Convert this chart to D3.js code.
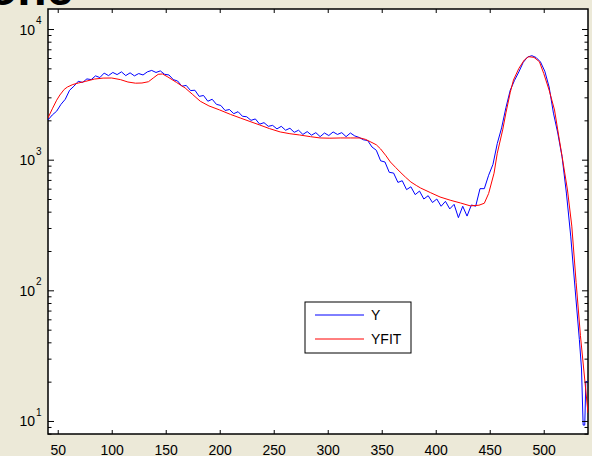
<!DOCTYPE html>
<html>
  <head>
    <style>
      body {
        margin: 0;
        background: #ECE9D8;
        font-family: "Liberation Sans", Arial, sans-serif;
      }
      .frame { fill: #fff; stroke: #000; stroke-width: 1.5px; }
      .axis path { display: none; }
      .axis line { stroke: #000; stroke-width: 1px; }
      .axis text { font-size: 14px; fill: #000; font-family: "Liberation Sans", Arial, sans-serif; }
      .y-line { fill: none; stroke: #0000ff; stroke-width: 1px; }
      .fit-line { fill: none; stroke: #ff0000; stroke-width: 1px; }
    </style>
  </head>
  <body>
    <script src="https://d3js.org/d3.v7.min.js"></script>
    <script>
      // measured Y, sampled every 4 channels from 41
      var yStart = 41, yStep = 4;
      var yValues = [
        2014,2200,2350,2650,2900,3400,3650,3980,3900,4150,
        4100,4380,4250,4600,4400,4650,4480,4700,4400,4620,
        4380,4560,4450,4700,4820,4650,4780,4500,4450,4100,
        4000,3650,3700,3380,3400,3050,3100,2800,2900,2650,
        2600,2380,2420,2250,2330,2150,2130,2000,2050,1870,
        1920,1800,1830,1720,1800,1680,1740,1620,1680,1560,
        1640,1540,1610,1500,1600,1530,1630,1560,1610,1500,
        1600,1520,1480,1420,1400,1250,1180,980,960,800,
        790,670,690,590,620,540,575,500,530,470,
        500,440,480,420,455,360,440,370,450,440,
        600,600,760,920,1330,1750,2500,3400,4050,4700,
        5550,6100,6250,6050,5600,4750,3600,2270,1600,1050,
        555,260,104,42
      ];
      var yTail = [[535, 25], [536.5, 9.3], [538, 9.3], [539, 20], [541, 20]];

      // fitted curve
      var fitX = [41,45,49,52,56,59,64,69,76,84,92,100,108,115,122,128,134,139,143,147,
                  152,160,168,175,182,190,200,210,219,228,237,246,256,265,274,284,293,302,312,321,
                  330,335,340,345,349,354,358,363,367,372,377,382,386,395,404,414,423,432,440,445,
                  449,454,457,462,465,469,472,477,482,486,491,496,500,505,510,514,517,522,526,530,
                  534,541];
      var fitY = [2085,2450,2850,3126,3450,3600,3760,3860,3980,4140,4210,4217,4100,3930,3850,3862,3950,4250,4500,4528,
                  4293,3900,3537,3150,2800,2580,2400,2220,2085,1960,1843,1730,1630,1580,1545,1500,1466,1460,1466,1466,
                  1466,1430,1365,1300,1207,1070,960,870,805,735,675,635,607,560,518,488,466,443,448,464,
                  551,788,1120,1690,2280,3270,4070,5000,5790,6140,6070,5620,4570,3410,2400,1500,1060,586,310,115,
                  45,11.5];

      var xTicks = [50,100,150,200,250,300,350,400,450,500];
      var yMajor = [10,100,1000,10000];
      var legendLabels = ["Y", "YFIT"];

      var W = 592, H = 456;
      var pLeft = 48, pRight = 588, pTop = 9, pBottom = 434;

      var svg = d3.select("body").append("svg")
        .attr("width", W)
        .attr("height", H);

      // truncated title above the axes
      svg.append("text")
        .attr("x", -12).attr("y", 5)
        .style("font-size", "48px").style("font-weight", "bold")
        .style("font-family", "'Liberation Sans', Arial, sans-serif")
        .text("one");

      var x = d3.scaleLinear().domain([41, 541]).range([pLeft, pRight]);
      var y = d3.scaleLog().domain([7.95, 14230]).range([pBottom, pTop]);

      svg.append("rect")
        .attr("class", "frame")
        .attr("x", pLeft).attr("y", pTop)
        .attr("width", pRight - pLeft).attr("height", pBottom - pTop);

      svg.append("clipPath").attr("id", "clip")
        .append("rect")
        .attr("x", pLeft).attr("y", pTop)
        .attr("width", pRight - pLeft).attr("height", pBottom - pTop);

      var yData = yValues.map(function(v, i) { return [yStart + i * yStep, v]; }).concat(yTail);
      var fitData = fitX.map(function(v, i) { return [v, fitY[i]]; });

      var line = d3.line()
        .x(d => x(d[0]))
        .y(d => y(d[1]));

      var plot = svg.append("g").attr("clip-path", "url(#clip)");
      plot.append("path").attr("class", "y-line").datum(yData).attr("d", line);
      plot.append("path").attr("class", "fit-line").datum(fitData).attr("d", line);

      // x axes, ticks pointing inward
      svg.append("g")
        .attr("class", "axis")
        .attr("transform", "translate(0," + pBottom + ")")
        .call(d3.axisBottom(x).tickValues(xTicks).tickSize(-4).tickPadding(11));
      svg.append("g")
        .attr("class", "axis")
        .attr("transform", "translate(0," + pTop + ")")
        .call(d3.axisTop(x).tickValues(xTicks).tickSize(-4).tickFormat(""));

      // y minor ticks 2..9 in every decade
      var yMinor = [];
      [1, 10, 100, 1000, 10000].forEach(function(d) {
        for (var k = 2; k <= 9; k++) {
          var v = d * k;
          if (v >= 7.95 && v <= 14230) yMinor.push(v);
        }
      });

      [[pLeft, d3.axisLeft], [pRight, d3.axisRight]].forEach(function(s) {
        svg.append("g")
          .attr("class", "axis")
          .attr("transform", "translate(" + s[0] + ",0)")
          .call(s[1](y).tickValues(yMajor).tickSize(-6).tickFormat(""));
        svg.append("g")
          .attr("class", "axis")
          .attr("transform", "translate(" + s[0] + ",0)")
          .call(s[1](y).tickValues(yMinor).tickSize(-3.5).tickFormat(""));
      });

      // 10^n labels
      var lab = svg.selectAll(".ylab").data(yMajor).enter().append("g").attr("class", "ylab");
      lab.append("text")
        .attr("x", 35).attr("y", d => y(d) + 5.5)
        .attr("text-anchor", "end")
        .style("font-size", "14px")
        .text("10");
      lab.append("text")
        .attr("x", 36).attr("y", d => y(d) - 5)
        .style("font-size", "10px")
        .text(d => Math.round(Math.log10(d)));

      // legend
      var lg = svg.append("g").attr("transform", "translate(305,302)");
      lg.append("rect")
        .attr("width", 106).attr("height", 51)
        .attr("fill", "#fff").attr("stroke", "#000").attr("stroke-width", 1);
      var colors = ["#0000ff", "#ff0000"];
      legendLabels.forEach(function(t, i) {
        lg.append("line")
          .attr("x1", 10).attr("x2", 59)
          .attr("y1", 13 + i * 24).attr("y2", 13 + i * 24)
          .attr("stroke", colors[i]).attr("stroke-width", 1);
        lg.append("text")
          .attr("x", 66).attr("y", 18 + i * 24)
          .style("font-size", "14px")
          .text(t);
      });
    </script>
  </body>
</html>
